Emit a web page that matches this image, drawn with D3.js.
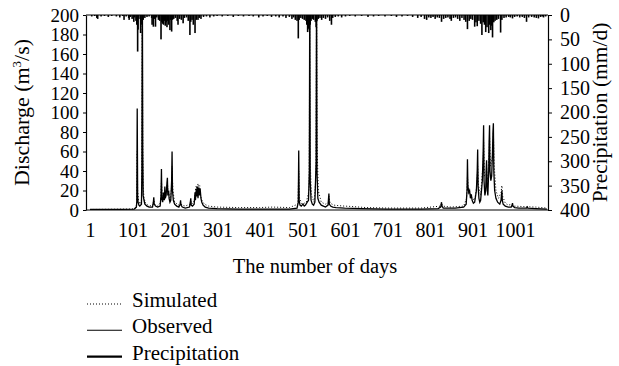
<!DOCTYPE html>
<html><head><meta charset="utf-8">
<script src="https://cdn.jsdelivr.net/npm/d3@7"></script>
<style>
html,body{margin:0;padding:0;background:#fff;}
</style></head>
<body><svg id="c" width="619" height="366" font-family="Liberation Serif, DejaVu Serif, serif"></svg>
<script>
// ---- data ----
const xTickDays = [1,101,201,301,401,501,601,701,801,901,1001];
const qTicks = [0,20,40,60,80,100,120,140,160,180,200];
const pTicks = [0,50,100,150,200,250,300,350,400];
const legendLabels = ["Simulated","Observed","Precipitation"];

// observed discharge [day, m3/s]
const observed = [[1,0.5],[60,0.5],[105,1],[110,3],[111,8],[112,104],[113,15],[114,8],[116,5],[118,4],[122,6],[123,40],[124,260],[125,60],[126,15],[128,10],[130,6],[135,4],[140,3],[148,3],[150,8],[151,13],[152,6],[155,4],[160,3],[166,4],[168,15],[169,42],[170,12],[172,8],[174,18],[176,10],[177,24],[178,12],[180,15],[182,28],[183,33],[184,15],[186,20],[187,12],[189,8],[191,10],[193,30],[194,60],[195,20],[197,10],[200,6],[205,4],[210,3],[213,6],[214,10],[215,5],[218,3],[225,2],[235,3],[237,8],[238,12],[239,5],[242,4],[246,6],[248,18],[249,10],[251,22],[252,14],[254,24],[255,12],[257,23],[258,15],[260,22],[262,12],[264,8],[267,5],[272,3],[280,2],[300,1.5],[350,1],[420,1],[470,1],[488,2],[491,8],[492,61],[493,10],[495,5],[498,4],[502,6],[505,4],[508,5],[512,8],[515,10],[517,40],[518,240],[519,30],[521,10],[524,6],[527,5],[530,8],[533,50],[534,250],[535,40],[537,12],[540,8],[545,5],[550,4],[555,3],[561,5],[563,17],[564,6],[567,4],[572,3],[580,2.5],[600,2],[640,1.5],[700,1],[780,1],[820,1.5],[826,3],[828,8],[829,4],[832,2],[840,2],[860,2],[880,3],[886,6],[888,20],[889,52],[890,25],[892,18],[894,20],[896,12],[898,16],[900,10],[903,7],[906,8],[910,20],[912,40],[913,62],[914,25],[916,12],[918,8],[920,10],[924,30],[926,60],[927,87],[928,30],[930,15],[932,20],[933,40],[934,51],[935,25],[937,15],[939,40],[940,70],[941,87],[942,40],[944,30],[946,35],[948,60],[949,80],[950,89],[951,40],[953,20],[956,12],[960,8],[965,6],[968,10],[969,15],[970,20],[971,10],[973,6],[978,4],[985,3],[992,3],[994,5],[995,7],[996,4],[1000,2.5],[1010,2],[1028,2],[1030,3],[1031,2],[1050,1.5],[1076,1]];

// simulated discharge [day, m3/s]
const simulated = [[1,0.5],[100,1],[108,2],[111,6],[112,60],[113,20],[115,10],[118,6],[122,10],[123,80],[124,230],[125,80],[126,25],[128,12],[132,7],[140,4],[149,5],[151,10],[153,6],[160,4],[167,8],[169,30],[171,15],[174,15],[177,20],[180,18],[183,28],[185,18],[187,16],[190,10],[193,25],[194,45],[196,20],[200,8],[210,5],[214,8],[217,5],[225,4],[236,6],[238,10],[240,6],[247,10],[249,20],[251,25],[253,20],[255,27],[257,22],[259,25],[261,15],[264,10],[270,6],[280,4],[300,3],[350,2.5],[400,2.5],[430,3],[470,2.5],[490,6],[492,40],[494,12],[500,6],[510,8],[516,20],[517,80],[518,220],[519,50],[522,15],[528,8],[532,30],[533,120],[534,230],[535,70],[538,20],[545,8],[555,6],[562,8],[563,14],[566,7],[575,5],[585,4.5],[600,4],[620,3.5],[650,2.5],[700,2],[780,2],[826,4],[828,7],[831,4],[850,3],[880,4],[887,12],[889,35],[891,22],[895,18],[900,12],[906,10],[911,25],[913,45],[915,25],[920,15],[926,50],[927,70],[929,35],[933,35],[934,45],[936,30],[940,60],[941,75],[943,45],[948,55],[950,80],[952,45],[956,20],[962,12],[968,18],[970,25],[972,14],[978,7],[985,5],[995,6],[1000,4],[1020,3.5],[1050,3],[1076,2]];

// precipitation [day, mm/d]
const precipitation = [[5,3],[12,2],[17,6],[19,8],[27,3],[35,2],[44,4],[52,2],[63,3],[71,5],[78,2],[81,10],[86,3],[92,6],[93,10],[96,4],[100,8],[104,14],[106,5],[109,12],[111,20],[113,75],[114,30],[116,8],[120,37],[123,20],[126,10],[130,6],[135,4],[140,3],[146,6],[147,20],[150,24],[152,8],[155,24],[158,5],[162,10],[165,12],[168,50],[170,15],[172,18],[174,20],[176,12],[178,22],[180,15],[182,25],[184,12],[186,20],[189,31],[190,10],[193,34],[195,10],[198,8],[202,6],[206,12],[208,20],[212,8],[216,10],[220,17],[223,6],[228,5],[232,12],[236,41],[238,14],[241,10],[244,20],[248,37],[251,10],[255,10],[258,6],[262,8],[268,4],[275,3],[283,5],[292,3],[300,2],[312,3],[325,2],[338,4],[350,2],[362,3],[375,2],[385,3],[398,5],[408,3],[418,2],[428,4],[438,3],[446,5],[455,3],[462,6],[470,4],[476,8],[480,5],[484,10],[488,12],[491,48],[493,10],[497,6],[501,8],[505,10],[509,12],[511,20],[513,35],[515,28],[517,30],[519,20],[521,12],[524,8],[527,10],[531,14],[533,25],[535,12],[538,8],[542,6],[546,10],[550,6],[555,8],[560,5],[565,12],[569,20],[572,6],[578,4],[585,3],[593,5],[602,3],[612,2],[625,3],[640,2],[655,4],[668,3],[680,2],[695,3],[710,2],[722,4],[735,3],[748,2],[760,4],[772,6],[780,4],[788,8],[793,10],[798,5],[803,6],[808,4],[813,8],[818,5],[823,6],[828,14],[833,8],[838,6],[843,5],[848,8],[851,12],[856,6],[861,5],[866,8],[871,12],[876,6],[881,10],[885,14],[889,29],[893,12],[897,8],[901,10],[906,24],[909,15],[912,23],[916,12],[920,18],[923,41],[926,15],[929,20],[932,35],[935,25],[939,37],[941,20],[944,31],[946,22],[948,46],[951,15],[954,12],[958,10],[962,8],[967,36],[970,10],[975,6],[980,5],[986,4],[990,5],[995,7],[1000,4],[1006,3],[1012,5],[1018,4],[1023,6],[1028,14],[1033,5],[1040,4],[1046,5],[1051,6],[1056,7],[1061,4],[1065,3],[1068,5],[1073,3]];

// ---- layout ----
const FONT = "Liberation Serif, DejaVu Serif, serif";
const L = 86, R = 548, T = 15, B = 210;
const svg = d3.select("#c");
const x = d3.scaleLinear().domain([-8.5, 1078.5]).range([L, R]);
const yQ = d3.scaleLinear().domain([0, 200]).range([B, T]);
const yP = d3.scaleLinear().domain([0, 400]).range([T, B]);

svg.append("defs").append("clipPath").attr("id","clip")
  .append("rect").attr("x",L).attr("y",T).attr("width",R-L).attr("height",B-T);

const plot = svg.append("g").attr("clip-path","url(#clip)");

plot.selectAll("rect.p").data(precipitation).join("rect")
  .attr("class","p")
  .attr("x", d => x(d[0]) - 0.8)
  .attr("width", 1.6)
  .attr("y", yP(0))
  .attr("height", d => yP(d[1]) - yP(0))
  .attr("fill","#000");

const line = d3.line().x(d => x(d[0])).y(d => yQ(d[1]));

plot.append("path").datum(simulated)
  .attr("d", line).attr("fill","none").attr("stroke","#000")
  .attr("stroke-width",1).attr("stroke-dasharray","1,2");

plot.append("path").datum(observed)
  .attr("d", line).attr("fill","none").attr("stroke","#000")
  .attr("stroke-width",1.3);

svg.append("line").attr("x1",L).attr("x2",R).attr("y1",T).attr("y2",T).attr("stroke","#000");

const gl = svg.append("g").attr("transform",`translate(${L},0)`)
  .call(d3.axisLeft(yQ).tickValues(qTicks).tickSize(3).tickPadding(4).tickSizeOuter(0));
const gr = svg.append("g").attr("transform",`translate(${R},0)`)
  .call(d3.axisRight(yP).tickValues(pTicks).tickSize(4).tickPadding(8).tickSizeOuter(0));
const gb = svg.append("g").attr("transform",`translate(0,${B})`)
  .call(d3.axisBottom(x).tickValues(xTickDays).tickFormat(d3.format("d")).tickSize(0).tickPadding(13).tickSizeOuter(0));

[[gl,19],[gr,20],[gb,20]].forEach(([g,s]) => {
  g.attr("font-family", FONT).attr("font-size", s);
  g.selectAll("path.domain").attr("stroke","#000").attr("stroke-width",1.2);
  g.selectAll(".tick line").attr("stroke","#000");
  g.selectAll("text").attr("fill","#000");
});
gb.select("path.domain").attr("d",`M${L},0H${R}`);

const tl = svg.append("text").attr("transform",`translate(29,${(T+B)/2}) rotate(-90)`)
  .attr("text-anchor","middle").attr("font-family",FONT).attr("font-size",22);
tl.append("tspan").text("Discharge (m");
tl.append("tspan").text("3").attr("dy",-8).attr("font-size",13);
tl.append("tspan").text("/s)").attr("dy",8);

svg.append("text").attr("transform",`translate(607,${(T+B)/2}) rotate(-90)`)
  .attr("text-anchor","middle").attr("font-family",FONT).attr("font-size",21.5).text("Precipitation (mm/d)");

svg.append("text").attr("x",315).attr("y",273)
  .attr("text-anchor","middle").attr("font-family",FONT).attr("font-size",20.5).text("The number of days");

const lg = svg.append("g");
const styles = [{w:1,dash:"1,2"},{w:1.1,dash:null},{w:2.4,dash:null}];
legendLabels.forEach((name,i) => {
  const yy = 304 + i*26.3;
  lg.append("line").attr("x1",87).attr("x2",122).attr("y1",yy).attr("y2",yy)
    .attr("stroke","#000").attr("stroke-width",styles[i].w)
    .attr("stroke-dasharray",styles[i].dash);
  lg.append("text").attr("x",132).attr("y",yy+3).attr("font-family",FONT).attr("font-size",21).text(name);
});
</script></body></html>
